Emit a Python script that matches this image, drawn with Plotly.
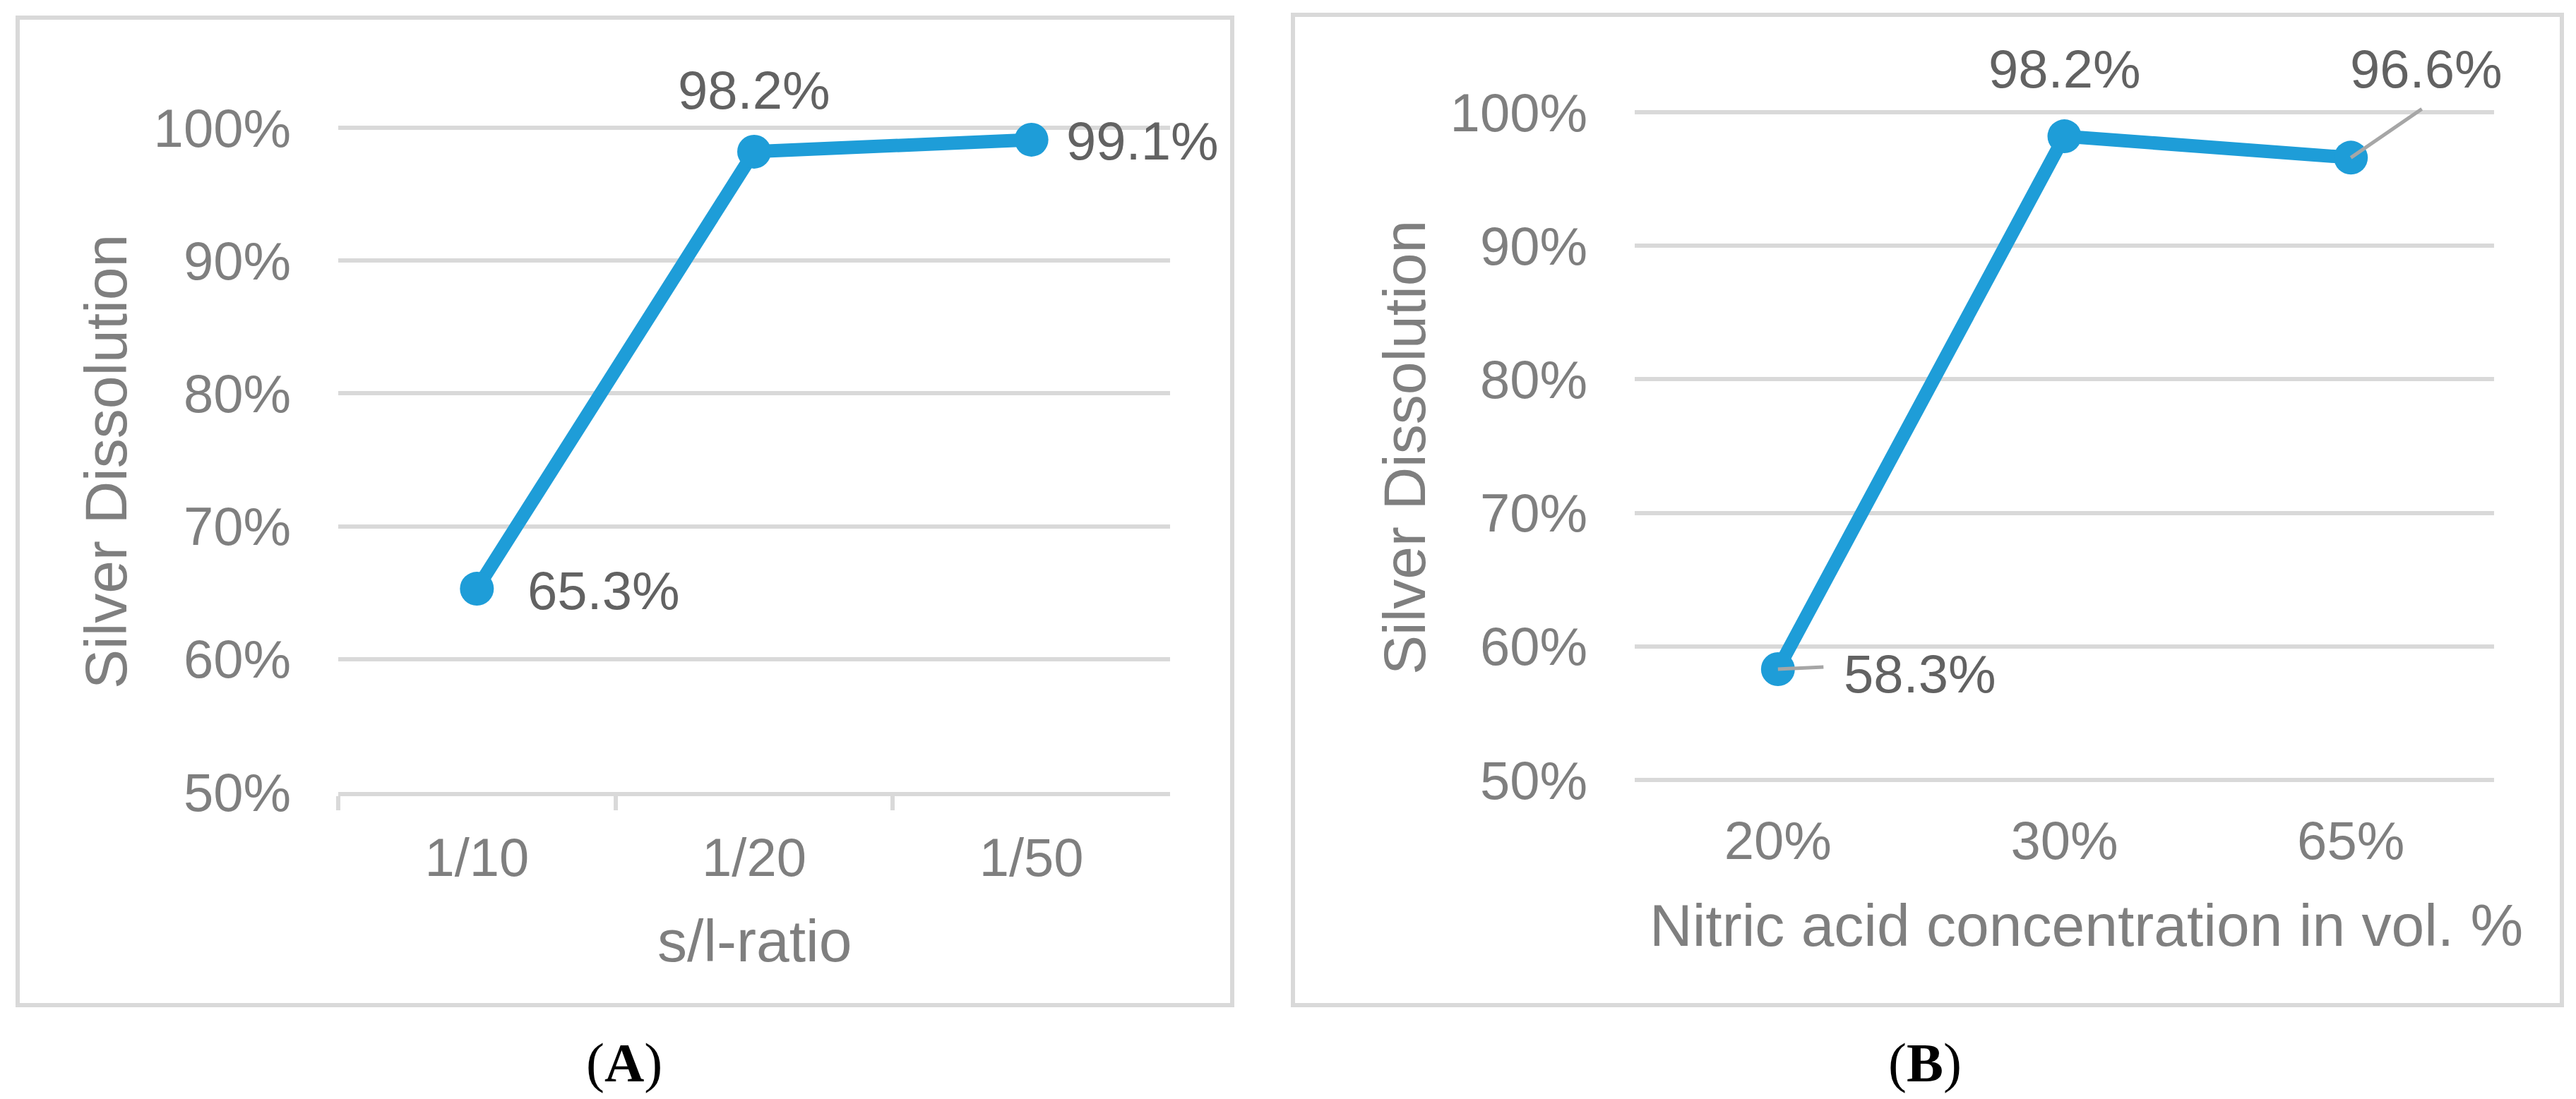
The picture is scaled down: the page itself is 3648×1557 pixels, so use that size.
import plotly.graph_objects as go

# data
SL_RATIO = ["1/10", "1/20", "1/50"]
DISSOLUTION_A = [0.653, 0.982, 0.991]

NITRIC_CONC = ["20%", "30%", "65%"]
DISSOLUTION_B = [0.583, 0.982, 0.966]

Y_TICKS = [0.5, 0.6, 0.7, 0.8, 0.9, 1.0]
Y_MIN, Y_MAX = 0.5, 1.0

W, H = 3648, 1557
BLUE = "#1E9DD8"
GRID = "#D9D9D9"
TICK_COLOR = "#7F7F7F"
LABEL_COLOR = "#626262"
LEADER = "#A6A6A6"
FONT = "Liberation Sans, Arial, sans-serif"
PAD = 3  # px of slack so the edge gridlines are not dropped


def px_x(x):
    return x / W


def px_y(y):
    # pixel row from the top -> paper coordinate
    return (H - y) / H


def y_axis(top, bottom, pad_top, pad_bottom):
    # plot area between pixel rows top/bottom for Y_MIN..Y_MAX, widened a little
    per_px = (Y_MAX - Y_MIN) / (bottom - top)
    return dict(
        domain=[px_y(bottom + pad_bottom), px_y(top - pad_top)],
        range=[Y_MIN - pad_bottom * per_px, Y_MAX + pad_top * per_px],
    )


fig = go.Figure()

for cats, vals, xa, ya in [(SL_RATIO, DISSOLUTION_A, "x", "y"),
                           (NITRIC_CONC, DISSOLUTION_B, "x2", "y2")]:
    fig.add_trace(
        go.Scatter(
            x=cats,
            y=vals,
            mode="lines+markers",
            line=dict(color=BLUE, width=19),
            marker=dict(color=BLUE, size=48),
            cliponaxis=False,
            hoverinfo="skip",
            xaxis=xa,
            yaxis=ya,
        )
    )

yaxis_common = dict(
    tickvals=Y_TICKS,
    tickformat=".0%",
    showgrid=True,
    gridcolor=GRID,
    gridwidth=6,
    zeroline=False,
    showline=False,
    ticks="",
    ticklabelstandoff=66,
    tickfont=dict(family=FONT, size=76, color=TICK_COLOR),
)

fig.update_layout(
    width=W,
    height=H,
    autosize=False,
    margin=dict(l=0, r=0, t=0, b=0, autoexpand=False),
    paper_bgcolor="white",
    plot_bgcolor="white",
    showlegend=False,
    font=dict(family=FONT),
    xaxis=dict(
        domain=[px_x(479), px_x(1657)],
        range=[-0.5, 2.5],
        anchor="y",
        type="category",
        showgrid=False,
        showline=True,
        linecolor=GRID,
        linewidth=6,
        ticks="outside",
        ticklen=20,
        tickwidth=6,
        tickcolor=GRID,
        tickson="boundaries",
        ticklabelstandoff=22,
        tickfont=dict(family=FONT, size=76, color=TICK_COLOR),
    ),
    yaxis=dict(anchor="x", **y_axis(181, 1122, PAD, 0), **yaxis_common),
    xaxis2=dict(
        domain=[px_x(2315), px_x(3532)],
        range=[-0.5, 2.5],
        anchor="y2",
        type="category",
        showgrid=False,
        showline=False,
        ticks="",
        ticklabelstandoff=32,
        tickfont=dict(family=FONT, size=76, color=TICK_COLOR),
    ),
    yaxis2=dict(anchor="x2", **y_axis(159, 1105, PAD, PAD), **yaxis_common),
)

# panel frames
fig.add_shape(type="rect", xref="paper", yref="paper",
              x0=px_x(25), x1=px_x(1745), y0=px_y(1424), y1=px_y(25),
              line=dict(color=GRID, width=6), layer="below")
fig.add_shape(type="rect", xref="paper", yref="paper",
              x0=px_x(1831), x1=px_x(3628), y0=px_y(1424), y1=px_y(21),
              line=dict(color=GRID, width=6), layer="below")

# axis titles
title_font = dict(family=FONT, size=84, color=TICK_COLOR)
fig.add_annotation(text="Silver Dissolution", xref="paper", yref="paper",
                   x=px_x(150), y=px_y(654), textangle=-90, showarrow=False,
                   xanchor="center", yanchor="middle", font=title_font)
fig.add_annotation(text="Silver Dissolution", xref="paper", yref="paper",
                   x=px_x(1989), y=px_y(634), textangle=-90, showarrow=False,
                   xanchor="center", yanchor="middle", font=title_font)
fig.add_annotation(text="s/l-ratio", xref="paper", yref="paper",
                   x=px_x(1068), y=px_y(1333), showarrow=False,
                   xanchor="center", yanchor="middle", font=title_font)
fig.add_annotation(text="Nitric acid concentration in vol. %", xref="paper", yref="paper",
                   x=px_x(2954), y=px_y(1311), showarrow=False,
                   xanchor="center", yanchor="middle", font=title_font)

# data labels: (xanchor, xshift, yshift) per point
label_font = dict(family=FONT, size=76, color=LABEL_COLOR)
offsets_a = [("left", 70, -2), ("center", 0, 87), ("left", 47, -2)]
offsets_b = [("left", 91, -7), ("center", 0, 96), ("left", -3, 126)]

for cat, val, (anc, dx, dy) in zip(SL_RATIO, DISSOLUTION_A, offsets_a):
    fig.add_annotation(x=cat, y=val, xref="x", yref="y", text=f"{val:.1%}",
                       showarrow=False, xanchor=anc, yanchor="middle",
                       xshift=dx, yshift=dy, font=label_font)
for cat, val, (anc, dx, dy) in zip(NITRIC_CONC, DISSOLUTION_B, offsets_b):
    fig.add_annotation(x=cat, y=val, xref="x2", yref="y2", text=f"{val:.1%}",
                       showarrow=False, xanchor=anc, yanchor="middle",
                       xshift=dx, yshift=dy, font=label_font)

# leader lines in panel B
leaders = [(0, 66, -3), (2, 102, -70)]
for idx, ax, ay in leaders:
    fig.add_annotation(x=NITRIC_CONC[idx], y=DISSOLUTION_B[idx], xref="x2", yref="y2",
                       text=" ", showarrow=True, arrowhead=0, arrowwidth=5,
                       arrowcolor=LEADER, ax=ax, ay=ay, standoff=0, startstandoff=0,
                       font=dict(size=1))

# panel captions
cap_font = dict(family="Liberation Serif, Times New Roman, serif", size=78, color="black")
fig.add_annotation(text="(<b>A</b>)", xref="paper", yref="paper", x=px_x(884), y=px_y(1505),
                   showarrow=False, xanchor="center", yanchor="middle", font=cap_font)
fig.add_annotation(text="(<b>B</b>)", xref="paper", yref="paper", x=px_x(2726), y=px_y(1505),
                   showarrow=False, xanchor="center", yanchor="middle", font=cap_font)

fig.write_html(
    "out.html",
    config={"displayModeBar": False},
    post_script="document.body.style.margin = '0';",
)
